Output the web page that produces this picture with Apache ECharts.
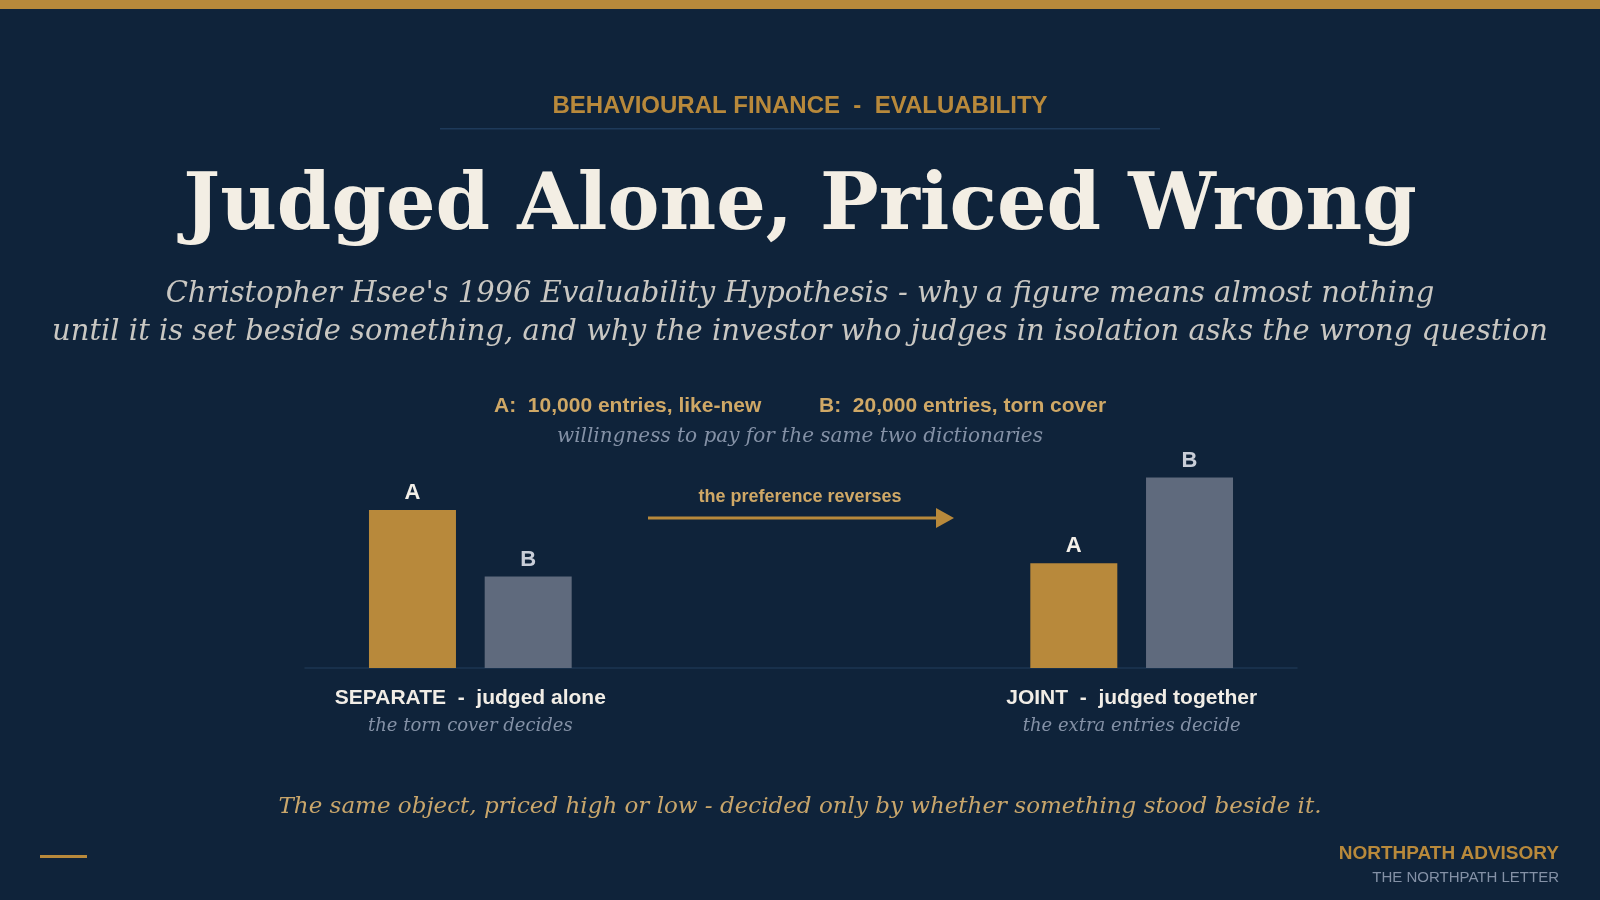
<!DOCTYPE html>
<html>
<head>
<meta charset="utf-8">
<script src="https://cdn.jsdelivr.net/npm/echarts@6/dist/echarts.min.js"></script>
<style>
  html, body { margin: 0; padding: 0; background: #0F233A; }
  #chart { width: 1600px; height: 900px; }
</style>
</head>
<body>
<div id="chart"></div>
<script>
// evaluability: same two dictionaries, judged alone vs together
const groups = ['SEPARATE', '', 'JOINT'];
const groupNotes = ['judged alone', '', 'judged together'];
const groupSubs = ['the torn cover decides', '', 'the extra entries decide'];
const seriesNames = ['A', 'B'];
const valuesA = [83, null, 55];   // 10,000 entries, like-new
const valuesB = [48, null, 100];  // 20,000 entries, torn cover

const GOLD = '#B8893B';
const SLATE = '#5F6A7D';
const BG = '#0F233A';
const SANS = '"Liberation Sans", Arial, sans-serif';
const SERIF = '"DejaVu Serif", serif';

const chart = echarts.init(document.getElementById('chart'));

const option = {
    backgroundColor: BG,
    animation: false,
    grid: { left: 305, width: 992, top: 477.5, height: 190.5 },
    xAxis: {
        type: 'category',
        data: groups,
        axisLine: { lineStyle: { color: '#1D3652', width: 1.5 } },
        axisTick: { show: false },
        axisLabel: {
            interval: 0,
            margin: 16,
            formatter: (v, i) => {
                if (!v) return '';
                return '{a|' + v + '  -  ' + groupNotes[i] + '}\n{b|' + groupSubs[i] + '}';
            },
            rich: {
                a: { fontFamily: SANS, fontWeight: 'bold', fontSize: 21, color: '#F1EDE6', lineHeight: 28 },
                b: { fontFamily: SERIF, fontStyle: 'italic', fontSize: 18, color: '#8491A6', lineHeight: 28 }
            }
        }
    },
    yAxis: { type: 'value', min: 0, max: 100, show: false, splitLine: { show: false } },
    series: [
        {
            name: seriesNames[0],
            type: 'bar',
            data: valuesA,
            barWidth: 87,
            barGap: '33%',
            itemStyle: { color: GOLD },
            label: {
                show: true, position: 'top', distance: 6,
                formatter: seriesNames[0],
                fontFamily: SANS, fontWeight: 'bold', fontSize: 22, color: '#F3EFE8'
            }
        },
        {
            name: seriesNames[1],
            type: 'bar',
            data: valuesB,
            barWidth: 87,
            itemStyle: { color: SLATE },
            label: {
                show: true, position: 'top', distance: 6,
                formatter: seriesNames[1],
                fontFamily: SANS, fontWeight: 'bold', fontSize: 22, color: '#C9CED8'
            }
        }
    ],
    graphic: [
        { type: 'rect', shape: { x: 0, y: 0, width: 1600, height: 9 }, style: { fill: GOLD } },
        {
            type: 'text', x: 800, y: 106,
            style: { text: 'BEHAVIOURAL FINANCE  -  EVALUABILITY', font: '600 24px ' + SANS, fill: GOLD, textAlign: 'center', textVerticalAlign: 'middle' }
        },
        { type: 'rect', shape: { x: 440, y: 128, width: 720, height: 1.5 }, style: { fill: '#1E3A5A' } },
        {
            type: 'text', x: 800, y: 209,
            style: { text: 'Judged Alone, Priced Wrong', font: 'bold 78px ' + SERIF, fill: '#F3EEE4', textAlign: 'center', textVerticalAlign: 'middle' }
        },
        {
            type: 'text', x: 800, y: 294,
            style: { text: "Christopher Hsee's 1996 Evaluability Hypothesis - why a figure means almost nothing", font: 'italic 29px ' + SERIF, fill: '#C9C7C2', textAlign: 'center', textVerticalAlign: 'middle' }
        },
        {
            type: 'text', x: 800, y: 332,
            style: { text: 'until it is set beside something, and why the investor who judges in isolation asks the wrong question', font: 'italic 29px ' + SERIF, fill: '#C9C7C2', textAlign: 'center', textVerticalAlign: 'middle' }
        },
        {
            type: 'text', x: 494, y: 406,
            style: { text: 'A:  10,000 entries, like-new', font: 'bold 21px ' + SANS, fill: '#CFA866', textAlign: 'left', textVerticalAlign: 'middle' }
        },
        {
            type: 'text', x: 819, y: 406,
            style: { text: 'B:  20,000 entries, torn cover', font: 'bold 21px ' + SANS, fill: '#CFA866', textAlign: 'left', textVerticalAlign: 'middle' }
        },
        {
            type: 'text', x: 800, y: 437,
            style: { text: 'willingness to pay for the same two dictionaries', font: 'italic 20px ' + SERIF, fill: '#8491A6', textAlign: 'center', textVerticalAlign: 'middle' }
        },
        {
            type: 'text', x: 800, y: 497,
            style: { text: 'the preference reverses', font: 'bold 18px ' + SANS, fill: '#CFA866', textAlign: 'center', textVerticalAlign: 'middle' }
        },
        { type: 'line', shape: { x1: 648, y1: 518, x2: 940, y2: 518 }, style: { stroke: GOLD, lineWidth: 3 } },
        { type: 'polygon', shape: { points: [[936, 508], [954, 518], [936, 528]] }, style: { fill: GOLD } },
        {
            type: 'text', x: 800, y: 807,
            style: { text: 'The same object, priced high or low - decided only by whether something stood beside it.', font: 'italic 23px ' + SERIF, fill: '#C9A66B', textAlign: 'center', textVerticalAlign: 'middle' }
        },
        { type: 'rect', shape: { x: 40, y: 855, width: 47, height: 3 }, style: { fill: GOLD } },
        {
            type: 'text', x: 1559, y: 854,
            style: { text: 'NORTHPATH ADVISORY', font: 'bold 19px ' + SANS, fill: GOLD, textAlign: 'right', textVerticalAlign: 'middle' }
        },
        {
            type: 'text', x: 1559, y: 878,
            style: { text: 'THE NORTHPATH LETTER', font: '15px ' + SANS, fill: '#8491A6', textAlign: 'right', textVerticalAlign: 'middle' }
        }
    ]
};

chart.setOption(option);
</script>
</body>
</html>
